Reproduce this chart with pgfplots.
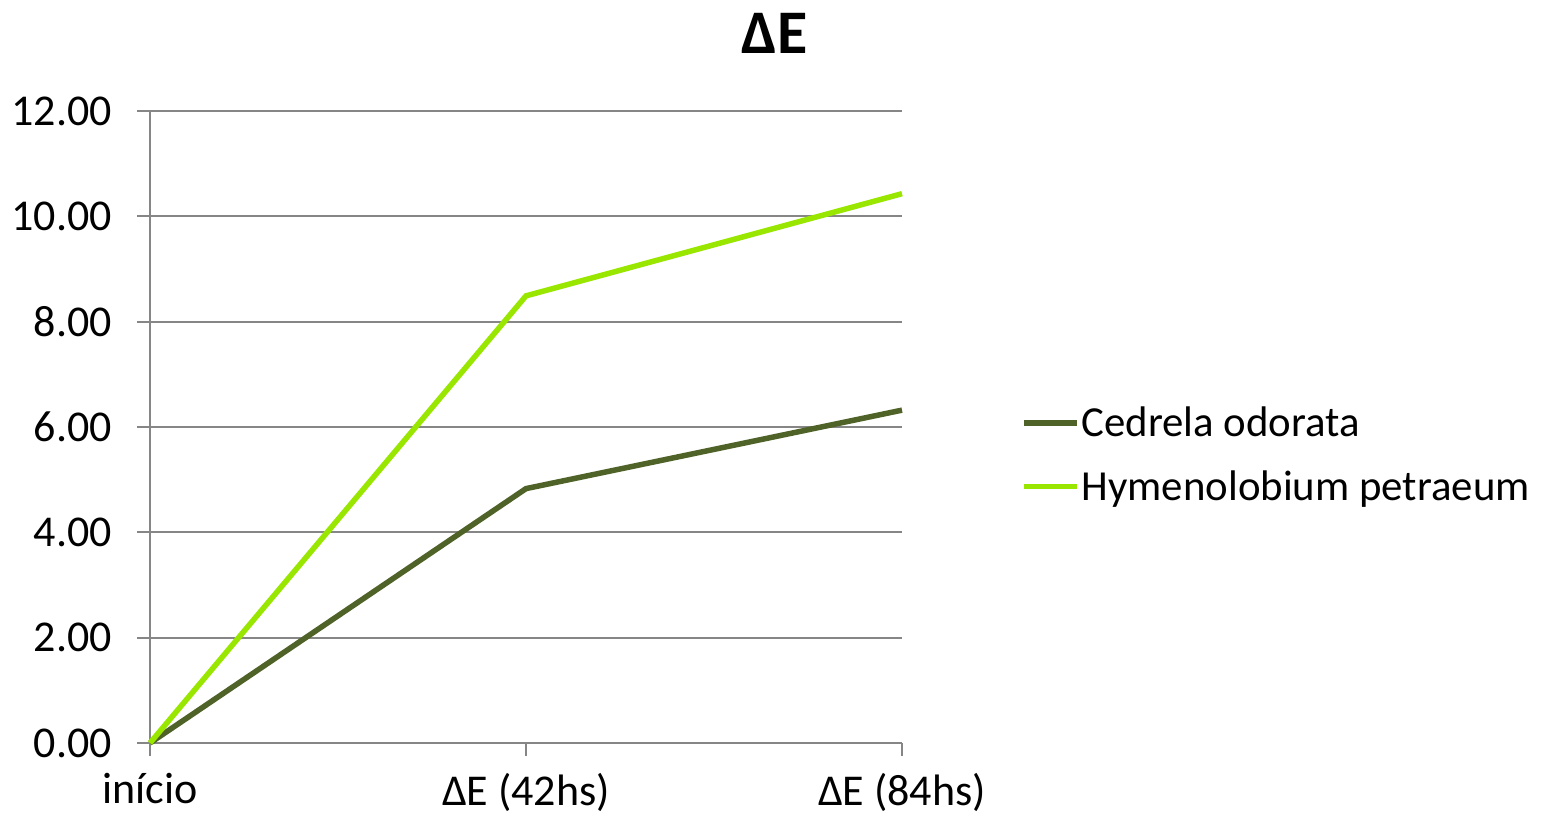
\documentclass[border=0pt]{standalone}
\usepackage{fontspec}
\setmainfont{Carlito}
\usepackage{pgfplots}
\pgfplotsset{compat=1.18}
\definecolor{cdark}{RGB}{79,98,40}
\definecolor{clight}{RGB}{153,230,0}
\definecolor{cgrid}{RGB}{134,134,134}
\begin{document}
\begin{tikzpicture}
\useasboundingbox (0,0) rectangle (770.5pt,409.5pt);
\begin{axis}[
  at={(75pt,38pt)}, anchor=south west,
  scale only axis, width=376pt, height=316pt,
  xmin=0, xmax=2, ymin=0, ymax=12,
  xtick={0,1,2},
  xticklabels={início,ΔE (42hs),ΔE (84hs)},
  ytick={0,2,4,6,8,10,12},
  /pgf/number format/assume math mode=true,
  yticklabel style={/pgf/number format/fixed, /pgf/number format/fixed zerofill, /pgf/number format/precision=2, xshift=-9pt},
  tick label style={font=\fontsize{22}{26}\selectfont, text=black},
  xticklabel style={yshift=-5pt},
  axis x line*=bottom, axis y line*=left,
  ymajorgrids,
  grid style={cgrid, line width=1pt},
  axis line style={cgrid, line width=1pt},
  tick style={cgrid, line width=1pt},
  tick align=outside,
  major tick length=6.5pt,
  legend style={draw=none, fill=none, at={(1.15,0.456)}, anchor=west,
    font=\fontsize{21.4}{25}\selectfont, row sep=13.5pt,
    nodes={inner sep=1pt}},
  legend cell align=left,
  legend image code/.code={\draw[#1] (0pt,0pt) -- (26.5pt,0pt);},
  clip=false,
]
\addplot[cdark, line width=2.75pt] coordinates {(0,0) (1,4.83) (2,6.32)};
\addlegendentry{Cedrela odorata}
\addplot[clight, line width=2.75pt] coordinates {(0,0) (1,8.49) (2,10.43)};
\addlegendentry{Hymenolobium petraeum}
\end{axis}
\node[font=\bfseries\fontsize{31}{36}\selectfont] at (387.5pt,393pt) {ΔE};
\end{tikzpicture}
\end{document}
